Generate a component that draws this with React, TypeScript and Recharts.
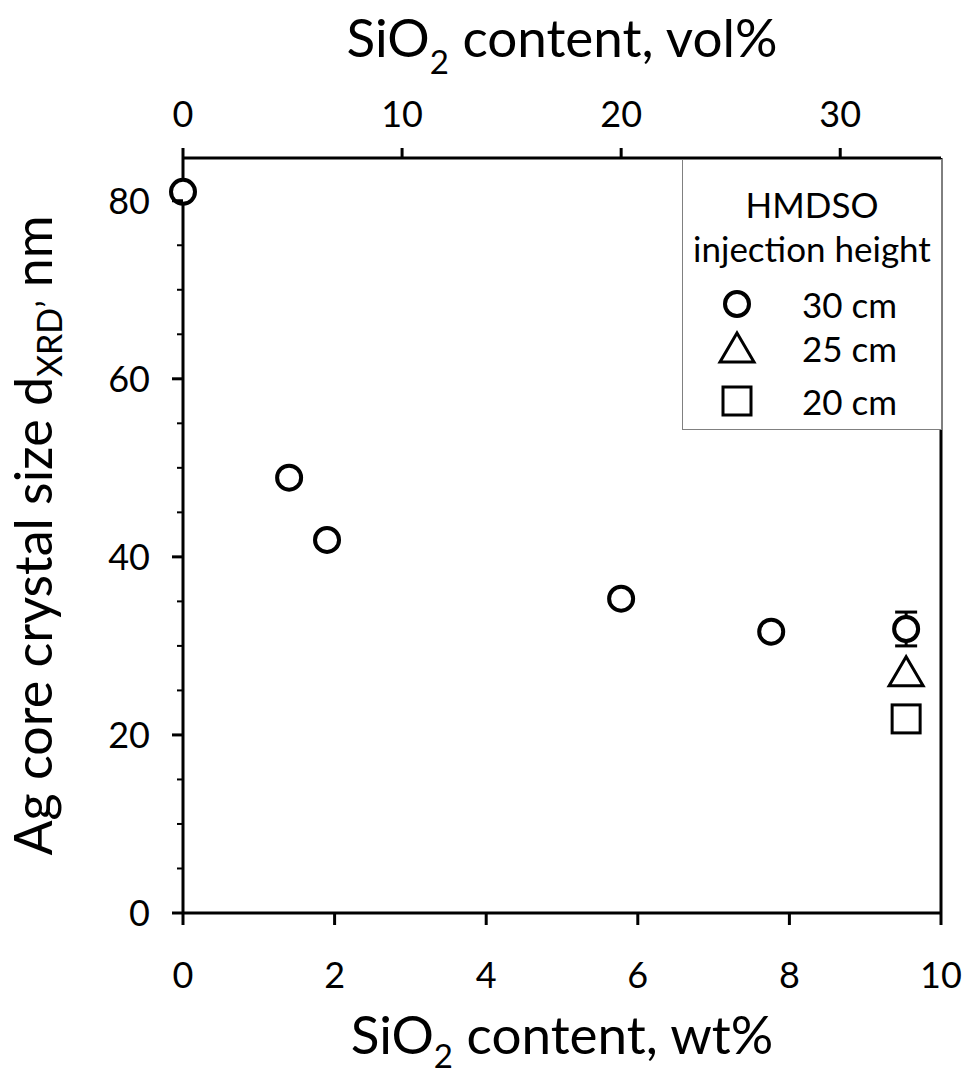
import React from 'react';
import { ScatterChart, Scatter, XAxis, YAxis, ErrorBar, Legend } from 'recharts';

// ---- data ----
const wt30 = [0, 1.4, 1.9, 5.78, 7.76, 9.54];
const size30 = [81, 48.9, 41.9, 35.3, 31.6, 31.9];
const err30 = [0, 0, 0, 0, 0, 1.9];
const wt25 = [9.54];
const size25 = [27.1];
const wt20 = [9.54];
const size20 = [21.8];

const wtTicks = [0, 2, 4, 6, 8, 10];
const volTicks = [0, 10, 20, 30];
const yTicks = [0, 5, 10, 15, 20, 25, 30, 35, 40, 45, 50, 55, 60, 65, 70, 75, 80];
const yMajor = [0, 20, 40, 60, 80];
const legendTitle = ['HMDSO', 'injection height'];
const seriesNames = ['30 cm', '25 cm', '20 cm'];

const WT_DOMAIN: [number, number] = [0, 10];
const VOL_DOMAIN: [number, number] = [0, 34.6];
const Y_DOMAIN: [number, number] = [0, 84.8];

const d30 = wt30.map((x, i) => ({ x, y: size30[i], err: err30[i] }));
const d25 = wt25.map((x, i) => ({ x, y: size25[i] }));
const d20 = wt20.map((x, i) => ({ x, y: size20[i] }));

const FONT = 'Lato';

const CircleShape = (p: any) => (
  <circle cx={p.cx} cy={p.cy} r={12} fill="#fff" stroke="#000" strokeWidth={4} />
);
const TriangleShape = (p: any) => (
  <path
    d={`M${p.cx},${p.cy - 15} L${p.cx + 17},${p.cy + 14} L${p.cx - 17},${p.cy + 14} Z`}
    fill="#fff"
    stroke="#000"
    strokeWidth={3}
    strokeLinejoin="miter"
  />
);
const SquareShape = (p: any) => (
  <rect x={p.cx - 14} y={p.cy - 14} width={28} height={28} fill="#fff" stroke="#000" strokeWidth={3} />
);

const YTick = (p: any) => {
  const v = p.payload.value;
  const major = yMajor.includes(v);
  const len = major ? 11 : 6;
  return (
    <g>
      <line x1={p.x - len} y1={p.y} x2={p.x} y2={p.y} stroke="#000" strokeWidth={major ? 3 : 2} />
      {major && (
        <text x={p.x - 33} y={p.y} dy="0.36em" textAnchor="end" fontSize={36} fontFamily={FONT} fill="#000">
          {v}
        </text>
      )}
    </g>
  );
};

const BottomTitle = (p: any) => {
  const vb = p.viewBox;
  return (
    <text x={vb.x + vb.width / 2} y={vb.y + 141} textAnchor="middle" fontSize={53} fontFamily={FONT} fill="#000">
      SiO
      <tspan fontSize={33} dy={14}>2</tspan>
      <tspan dy={-14}> content, wt%</tspan>
    </text>
  );
};

const TopTitle = (p: any) => {
  const vb = p.viewBox;
  return (
    <text x={vb.x + vb.width / 2} y={vb.y + 57} textAnchor="middle" fontSize={53} fontFamily={FONT} fill="#000">
      SiO
      <tspan fontSize={33} dy={17}>2</tspan>
      <tspan dy={-17}> content, vol%</tspan>
    </text>
  );
};

const LeftTitle = (p: any) => {
  const vb = p.viewBox;
  const cx = 52;
  const cy = vb.y + vb.height / 2;
  return (
    <text x={cx} y={cy} transform={`rotate(-90, ${cx}, ${cy})`} textAnchor="middle" fontSize={52} fontFamily={FONT} fill="#000">
      Ag core crystal size d
      <tspan fontSize={34} dy={10}>XRD’</tspan>
      <tspan dy={-10}> nm</tspan>
    </text>
  );
};

const iconFor = (i: number) => {
  if (i === 0) return <CircleShape cx={20} cy={20} />;
  if (i === 1) return <TriangleShape cx={20} cy={20} />;
  return <SquareShape cx={20} cy={20} />;
};

const itemTops = [144, 188, 241];

const LegendBox = () => (
  <div
    style={{
      position: 'relative',
      width: 260,
      height: 271,
      boxSizing: 'border-box',
      border: '1px solid #808080',
      background: '#fff',
      fontFamily: FONT,
      color: '#000',
    }}
  >
    {legendTitle.map((t, i) => (
      <div
        key={t}
        style={{
          position: 'absolute',
          left: 0,
          width: 258,
          top: 44 + i * 44 - 22,
          height: 44,
          lineHeight: '44px',
          textAlign: 'center',
          fontSize: 35,
          whiteSpace: 'nowrap',
        }}
      >
        {t}
      </div>
    ))}
    {seriesNames.map((n, i) => (
      <div key={n} style={{ position: 'absolute', left: 0, top: itemTops[i] - 22, height: 44, width: 258 }}>
        <svg width={40} height={40} style={{ position: 'absolute', left: 34, top: 2 }}>
          {iconFor(i)}
        </svg>
        <div style={{ position: 'absolute', left: 119, top: 0, height: 44, lineHeight: '44px', fontSize: 35, whiteSpace: 'nowrap' }}>
          {n}
        </div>
      </div>
    ))}
  </div>
);

export default function App() {
  return (
    <div style={{ position: 'absolute', left: 0, top: 0, width: 965, height: 1077, background: '#fff' }}>
      <ScatterChart width={965} height={1077} margin={{ top: 0, right: 0, bottom: 0, left: 0 }} style={{ fontFamily: FONT }}>
        <XAxis
          xAxisId="wt"
          dataKey="x"
          type="number"
          orientation="bottom"
          domain={WT_DOMAIN}
          ticks={wtTicks}
          height={164}
          axisLine={{ stroke: '#000', strokeWidth: 3 }}
          tickLine={{ stroke: '#000', strokeWidth: 3 }}
          tickSize={12}
          tickMargin={37}
          tick={{ fontSize: 36, fill: '#000', fontFamily: FONT }}
          label={<BottomTitle />}
        />
        <XAxis
          xAxisId="vol"
          dataKey="x"
          type="number"
          orientation="top"
          domain={VOL_DOMAIN}
          allowDataOverflow
          ticks={volTicks}
          height={158}
          axisLine={{ stroke: '#000', strokeWidth: 3 }}
          tickLine={{ stroke: '#000', strokeWidth: 3 }}
          tickSize={10}
          tickMargin={21}
          tick={{ fontSize: 36, fill: '#000', fontFamily: FONT }}
          label={<TopTitle />}
        />
        <YAxis
          yAxisId="left"
          dataKey="y"
          type="number"
          orientation="left"
          domain={Y_DOMAIN}
          ticks={yTicks}
          interval={0}
          width={183}
          axisLine={{ stroke: '#000', strokeWidth: 3 }}
          tickLine={false}
          tickSize={0}
          tickMargin={0}
          tick={<YTick />}
          label={<LeftTitle />}
        />
        <YAxis
          yAxisId="right"
          dataKey="y"
          type="number"
          orientation="right"
          domain={Y_DOMAIN}
          allowDataOverflow
          width={24}
          tick={false}
          tickLine={false}
          axisLine={{ stroke: '#000', strokeWidth: 3 }}
        />
        <Legend
          layout="vertical"
          align="center"
          verticalAlign="middle"
          content={<LegendBox />}
          wrapperStyle={{ position: 'absolute', left: 682, top: 159, width: 260, height: 271, right: 'auto', bottom: 'auto' }}
        />
        <Scatter xAxisId="vol" yAxisId="right" data={[]} legendType="none" isAnimationActive={false} />
        <Scatter name={seriesNames[0]} xAxisId="wt" yAxisId="left" data={d30} shape={<CircleShape />} isAnimationActive={false}>
          <ErrorBar dataKey="err" direction="y" width={11} stroke="#000" strokeWidth={3} isAnimationActive={false} />
        </Scatter>
        <Scatter name={seriesNames[1]} xAxisId="wt" yAxisId="left" data={d25} shape={<TriangleShape />} isAnimationActive={false} />
        <Scatter name={seriesNames[2]} xAxisId="wt" yAxisId="left" data={d20} shape={<SquareShape />} isAnimationActive={false} />
      </ScatterChart>
    </div>
  );
}
